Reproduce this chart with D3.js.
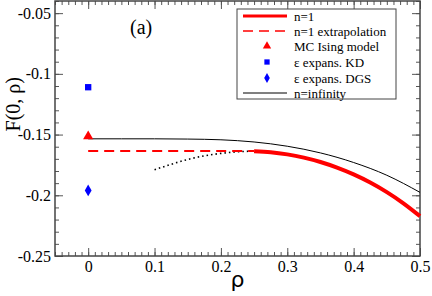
<!DOCTYPE html>
<html>
<head>
<meta charset="utf-8">
<script src="https://cdn.jsdelivr.net/npm/d3@7"></script>
<style>
  body { margin: 0; background: #fff; }
</style>
</head>
<body>
<div id="vis"></div>
<script>
// data
const nInfRho = [0, 0.05, 0.1, 0.15, 0.2, 0.25, 0.3, 0.35, 0.4, 0.45, 0.5];
const nInfF = [-0.1535, -0.1535, -0.1535, -0.1537, -0.1543, -0.1561, -0.1596, -0.1651, -0.1730, -0.1835, -0.1976];

const n1Rho = [0.25, 0.275, 0.3, 0.325, 0.35, 0.375, 0.4, 0.425, 0.45, 0.475, 0.5];
const n1F = [-0.1637, -0.1645, -0.1663, -0.1690, -0.1726, -0.1772, -0.1828, -0.1895, -0.1974, -0.2066, -0.2172];

const extrapRho = [0, 0.25];
const extrapF = [-0.1635, -0.1635];

const dotRho = [0.1, 0.125, 0.15, 0.175, 0.2, 0.225, 0.25];
const dotF = [-0.1790, -0.1745, -0.1705, -0.1675, -0.1655, -0.1642, -0.1636];

const mcIsing = [0, -0.1515];
const kdPoint = [0, -0.1110];
const dgsPoint = [0, -0.1960];

const xTicks = [0, 0.1, 0.2, 0.3, 0.4, 0.5];
const yTicks = [-0.25, -0.2, -0.15, -0.1, -0.05];

const legendLabels = ["n=1", "n=1 extrapolation", "MC Ising model", "\u03b5 expans. KD", "\u03b5 expans. DGS", "n=infinity"];

const width = 432, height = 296;
const margin = {left: 55, right: 12, top: 1, bottom: 40};
const serif = '"Liberation Serif", "Times New Roman", serif';

const x = d3.scaleLinear().domain([-0.05, 0.5]).range([margin.left, width - margin.right]);
const y = d3.scaleLinear().domain([-0.25, -0.04]).range([height - margin.bottom, margin.top]);

const svg = d3.select("#vis").append("svg")
  .attr("width", width).attr("height", height);

const pw = width - margin.left - margin.right;
const ph = height - margin.top - margin.bottom;

// axes, ticks pointing inward, mirrored on all four sides
const xMinor = d3.range(-0.05, 0.5001, 0.01);
const yMinor = d3.range(-0.25, -0.0399, 0.01);
const plain = d => String(d);   // plain hyphen minus, like the original

function noDomain(g) { g.select(".domain").remove(); }

svg.append("g").attr("transform", `translate(0,${y.range()[0]})`)
  .call(d3.axisBottom(x).tickValues(xMinor).tickSize(-4).tickFormat("")).call(noDomain);
svg.append("g").attr("transform", `translate(0,${y.range()[0]})`)
  .call(d3.axisBottom(x).tickValues(xTicks).tickSize(-8).tickPadding(5).tickFormat(plain))
  .call(noDomain);
svg.append("g").attr("transform", `translate(0,${y.range()[1]})`)
  .call(d3.axisTop(x).tickValues(xMinor).tickSize(-4).tickFormat("")).call(noDomain);
svg.append("g").attr("transform", `translate(0,${y.range()[1]})`)
  .call(d3.axisTop(x).tickValues(xTicks).tickSize(-8).tickFormat("")).call(noDomain);

svg.append("g").attr("transform", `translate(${x.range()[0]},0)`)
  .call(d3.axisLeft(y).tickValues(yMinor).tickSize(-4).tickFormat("")).call(noDomain);
svg.append("g").attr("transform", `translate(${x.range()[0]},0)`)
  .call(d3.axisLeft(y).tickValues(yTicks).tickSize(-8).tickPadding(4).tickFormat(plain))
  .call(noDomain);
svg.append("g").attr("transform", `translate(${x.range()[1]},0)`)
  .call(d3.axisRight(y).tickValues(yMinor).tickSize(-4).tickFormat("")).call(noDomain);
svg.append("g").attr("transform", `translate(${x.range()[1]},0)`)
  .call(d3.axisRight(y).tickValues(yTicks).tickSize(-8).tickFormat("")).call(noDomain);

svg.selectAll(".tick line").attr("stroke", "#555");
svg.selectAll(".tick text").attr("font-size", 16).attr("fill", "#000");

// frame
svg.append("rect")
  .attr("x", margin.left).attr("y", margin.top)
  .attr("width", pw).attr("height", ph)
  .attr("fill", "none").attr("stroke", "#444").attr("stroke-width", 1.5);

const line = d3.line().x(d => x(d[0])).y(d => y(d[1])).curve(d3.curveMonotoneX);

// n=infinity
svg.append("path").datum(d3.zip(nInfRho, nInfF))
  .attr("d", line).attr("fill", "none").attr("stroke", "#000").attr("stroke-width", 1);

// dotted
svg.append("path").datum(d3.zip(dotRho, dotF))
  .attr("d", line).attr("fill", "none").attr("stroke", "#000").attr("stroke-width", 1.6)
  .attr("stroke-dasharray", "1.5,3");

// extrapolation dashed
svg.append("path").datum(d3.zip(extrapRho, extrapF))
  .attr("d", line).attr("fill", "none").attr("stroke", "#f00").attr("stroke-width", 2)
  .attr("stroke-dasharray", "10,6");

// n=1
svg.append("path").datum(d3.zip(n1Rho, n1F))
  .attr("d", line).attr("fill", "none").attr("stroke", "#f00").attr("stroke-width", 4);

// symbols
const tri = d3.symbol().type(d3.symbolTriangle).size(45);
const sq = d3.symbol().type(d3.symbolSquare).size(40);
const dia = d3.symbol().type(d3.symbolDiamond).size(40);

svg.append("path").attr("d", tri())
  .attr("transform", `translate(${x(mcIsing[0])},${y(mcIsing[1])})`).attr("fill", "#f00");
svg.append("path").attr("d", sq())
  .attr("transform", `translate(${x(kdPoint[0])},${y(kdPoint[1])})`).attr("fill", "#00f");
svg.append("path").attr("d", dia())
  .attr("transform", `translate(${x(dgsPoint[0])},${y(dgsPoint[1])})`).attr("fill", "#00f");

// labels
svg.append("text").text("(a)")
  .attr("x", 130).attr("y", 34).attr("font-size", 20);

svg.append("text").text("F(0, \u03c1)")
  .attr("transform", `translate(20,${y(-0.125)}) rotate(-90)`)
  .attr("text-anchor", "middle").attr("font-size", 20);

// legend
const lg = svg.append("g");
lg.append("rect").attr("x", 237).attr("y", 9).attr("width", 159).attr("height", 90)
  .attr("fill", "#fff").attr("stroke", "#444").attr("stroke-width", 1);

const rowY = [16, 31, 46, 62, 78, 93];
legendLabels.forEach((lab, i) => {
  const ry = rowY[i];
  if (i === 0) {
    lg.append("line").attr("x1", 243).attr("x2", 287).attr("y1", ry).attr("y2", ry)
      .attr("stroke", "#f00").attr("stroke-width", 3);
  } else if (i === 1) {
    lg.append("line").attr("x1", 243).attr("x2", 287).attr("y1", ry).attr("y2", ry)
      .attr("stroke", "#f00").attr("stroke-width", 1.6).attr("stroke-dasharray", "10,6");
  } else if (i === 2) {
    lg.append("path").attr("d", d3.symbol().type(d3.symbolTriangle).size(30)())
      .attr("transform", `translate(267,${ry})`).attr("fill", "#f00");
  } else if (i === 3) {
    lg.append("path").attr("d", d3.symbol().type(d3.symbolSquare).size(28)())
      .attr("transform", `translate(267,${ry})`).attr("fill", "#00f");
  } else if (i === 4) {
    lg.append("path").attr("d", d3.symbol().type(d3.symbolDiamond).size(28)())
      .attr("transform", `translate(267,${ry})`).attr("fill", "#00f");
  } else {
    lg.append("line").attr("x1", 243).attr("x2", 287).attr("y1", ry).attr("y2", ry)
      .attr("stroke", "#000").attr("stroke-width", 1);
  }
  lg.append("text").text(lab).attr("x", 294).attr("y", ry + 4.5).attr("font-size", 13);
});

// all text in a Times-like face
svg.selectAll("text").style("font-family", serif);

// the rho axis title is set in a sans face in the original
svg.append("text").text("\u03c1")
  .attr("x", x(0.225)).attr("y", 287).attr("text-anchor", "middle")
  .attr("font-size", 22).style("font-family", '"DejaVu Sans", sans-serif');
</script>
</body>
</html>
